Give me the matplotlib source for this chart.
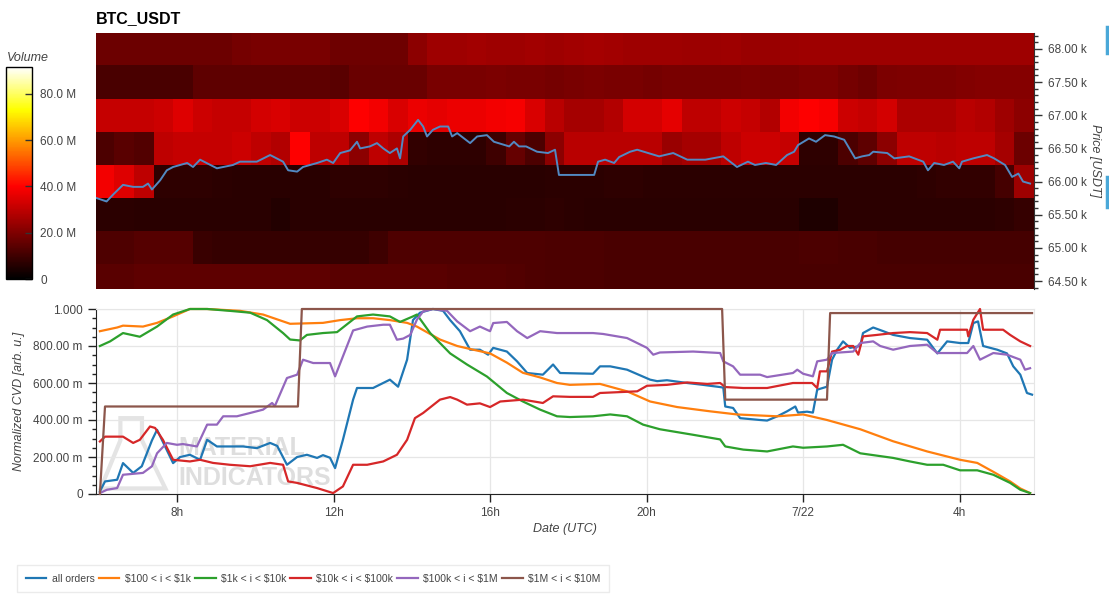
import numpy as np
import matplotlib
matplotlib.use("Agg")
import matplotlib.pyplot as plt
from matplotlib.colors import LinearSegmentedColormap
from matplotlib.ticker import FixedLocator, MultipleLocator, FuncFormatter
from matplotlib.patches import Polygon
from matplotlib.lines import Line2D

plt.rcParams["font.family"] = ["Liberation Sans", "DejaVu Sans"]

W, H = 1109, 595

# time axis: hours since 2024-07-21 00:00 UTC
x_ticks = [8, 12, 16, 20, 24, 28]
x_tick_labels = ["8h", "12h", "16h", "20h", "7/22", "4h"]

# heatmap: 30-min columns starting at 05:54, price bins of 500 USDT (values in M)
heat_start = 5.9
heat_step = 0.5
price_levels = [64.5, 65.0, 65.5, 66.0, 66.5, 67.0, 67.5, 68.0]

vol_6450 = [14, 14, 15, 15, 15, 15, 15, 15,
            15, 15, 15, 15, 14, 14, 14, 14,
            14, 14, 13.5, 13.5, 13.5, 13, 12.5, 12,
            12, 12, 11.5, 11.5, 11.5, 11.5, 11.5, 11.5,
            11.5, 11.5, 11.5, 11.5, 11.5, 11.5, 11.5, 11.5,
            11.5, 11.5, 11.5, 11.5, 11.5, 11.5, 11.5, 11.5]
vol_6500 = [12.5, 12.5, 13.5, 13.5, 13.5, 9, 8.5, 8.5,
            8.5, 8.5, 8.5, 8.5, 8.5, 8.5, 10, 12.5,
            12.5, 12.5, 12.5, 12.5, 12.5, 12.5, 12.5, 12,
            12, 12, 11.5, 11.5, 11.5, 11.5, 11.5, 11.5,
            11.5, 11.5, 11.5, 11.5, 12, 12, 11.5, 11.5,
            11, 11, 11, 11, 11, 11, 11, 11]
vol_6550 = [7, 7, 6.5, 6.5, 6.5, 6.5, 6.5, 6.5,
            6.5, 5.5, 6.5, 6.5, 6.5, 6.5, 6.5, 6.5,
            6.5, 6.5, 6.5, 6.5, 6.5, 7, 7, 7.5,
            7, 6.5, 6.5, 6.5, 6.5, 6.5, 6.5, 6.5,
            6.5, 6.5, 6.5, 6.5, 5, 5, 7, 7,
            7, 7, 7, 7, 7, 7, 7.5, 8.5]
vol_6600 = [38, 35, 30, 7.5, 7.5, 7.5, 7, 6.5,
            6.5, 6.5, 6.5, 6.5, 7.5, 7.5, 7.5, 7,
            6.5, 6.5, 6.5, 6.5, 6.5, 6.5, 6.5, 7,
            7, 7, 7.5, 7.5, 7, 7, 7, 7,
            7, 7, 7, 7, 7, 7, 7, 7,
            7, 7, 7.5, 8, 8, 8, 11, 25]
vol_6650 = [12, 14, 13, 30, 31, 31, 31, 32,
            30, 28, 40, 30, 30, 22, 30, 27,
            8, 7.5, 7.5, 7.5, 10, 16, 12, 22,
            29, 29, 29, 29, 29, 24, 26, 26,
            30, 32, 32, 31, 7.5, 7.5, 12, 15,
            22, 30, 30, 29, 30, 30, 26, 17]
vol_6700 = [31, 31, 31, 32, 35, 32, 31, 31,
            33, 34, 32, 32, 34, 40, 38, 34,
            37, 36, 37, 37, 38, 39, 34, 29,
            26, 26, 28, 33, 33, 36, 30, 30,
            32, 31, 28, 38, 40, 39, 32, 31,
            33, 27, 27, 27, 29, 28, 25, 22]
vol_6750 = [11.5, 11.5, 11.5, 11.5, 11.5, 15, 15, 15,
            15, 15, 15, 15, 14, 16.5, 16.5, 16.5,
            16.5, 19, 19, 19, 19.5, 19, 19, 18.5,
            19, 19.5, 19, 19, 18.5, 19, 19, 19,
            19, 19.5, 19, 19, 20, 20, 18.5, 17.5,
            19.5, 20, 20, 20, 20.5, 21, 21, 21]
vol_6800 = [17, 17, 17, 17, 17, 17, 17, 18.5,
            19, 19, 19, 19, 17.5, 17.5, 17.5, 17.5,
            22, 25, 25, 25.5, 25, 25, 25.5, 25,
            25.5, 26, 25.5, 25, 25, 25, 24.5, 24.5,
            25, 24, 24, 24.5, 25, 25, 25, 25,
            25, 25, 25, 25, 25, 25, 25, 25]

# BTC price (k USDT)
price = [(5.95, 65.75), (6.20, 65.70), (6.36, 65.80), (6.62, 65.95), (6.88, 65.92),
         (7.13, 65.92), (7.26, 65.97), (7.36, 65.88), (7.57, 66.02), (7.74, 66.17),
         (7.90, 66.22), (8.08, 66.25), (8.26, 66.28), (8.41, 66.22), (8.59, 66.33),
         (9.02, 66.20), (9.43, 66.25), (9.61, 66.30), (10.04, 66.30), (10.38, 66.40),
         (10.71, 66.30), (10.84, 66.17), (11.07, 66.15), (11.22, 66.22), (11.58, 66.28),
         (11.83, 66.33), (11.99, 66.28), (12.17, 66.43), (12.42, 66.47), (12.60, 66.60),
         (12.68, 66.50), (12.93, 66.53), (13.11, 66.58), (13.27, 66.50), (13.44, 66.43),
         (13.62, 66.50), (13.70, 66.35), (13.78, 66.68), (13.96, 66.78), (14.16, 66.93),
         (14.29, 66.83), (14.39, 66.68), (14.54, 66.78), (14.72, 66.83), (14.93, 66.83),
         (15.03, 66.68), (15.16, 66.73), (15.49, 66.58), (15.67, 66.68), (15.92, 66.70),
         (16.10, 66.60), (16.49, 66.53), (16.61, 66.60), (16.74, 66.53), (16.92, 66.53),
         (17.20, 66.45), (17.48, 66.43), (17.66, 66.48), (17.76, 66.10), (18.66, 66.10),
         (18.76, 66.30), (18.94, 66.33), (19.17, 66.28), (19.30, 66.37), (19.58, 66.45),
         (19.76, 66.48), (20.32, 66.38), (20.68, 66.43), (21.04, 66.33), (21.50, 66.33),
         (21.96, 66.38), (22.31, 66.22), (22.59, 66.30), (22.77, 66.25), (23.05, 66.28),
         (23.31, 66.25), (23.59, 66.40), (23.77, 66.45), (23.87, 66.55), (24.15, 66.65),
         (24.33, 66.60), (24.56, 66.70), (24.79, 66.68), (25.05, 66.63), (25.33, 66.35),
         (25.51, 66.38), (25.69, 66.40), (25.79, 66.45), (26.15, 66.43), (26.33, 66.35),
         (26.71, 66.38), (27.07, 66.30), (27.19, 66.17), (27.35, 66.28), (27.60, 66.25),
         (27.83, 66.30), (27.99, 66.20), (28.06, 66.30), (28.35, 66.35), (28.70, 66.40),
         (28.88, 66.35), (29.16, 66.25), (29.34, 66.07), (29.50, 66.12), (29.62, 66.00),
         (29.80, 65.97)]

# normalized CVD per order size bucket
cvd_all = [(6.03, 0.014), (6.16, 0.068), (6.47, 0.077), (6.62, 0.167), (6.88, 0.114),
           (7.10, 0.15), (7.36, 0.29), (7.49, 0.347), (7.90, 0.167), (8.08, 0.20),
           (8.33, 0.212), (8.59, 0.185), (8.77, 0.293), (9.02, 0.257), (9.35, 0.257),
           (9.69, 0.257), (10.04, 0.248), (10.38, 0.276), (10.56, 0.26), (10.81, 0.158),
           (11.07, 0.20), (11.32, 0.212), (11.58, 0.195), (11.73, 0.21), (11.91, 0.196),
           (12.04, 0.14), (12.24, 0.293), (12.50, 0.51), (12.60, 0.573), (13.01, 0.573),
           (13.44, 0.618), (13.65, 0.58), (13.88, 0.726), (14.03, 0.94), (14.21, 0.98),
           (14.54, 1.0), (14.80, 0.99), (14.98, 0.94), (15.23, 0.88), (15.49, 0.78),
           (15.74, 0.78), (15.95, 0.753), (16.08, 0.79), (16.43, 0.77), (16.69, 0.717),
           (16.95, 0.654), (17.35, 0.645), (17.61, 0.70), (17.79, 0.654), (18.63, 0.65),
           (18.81, 0.69), (19.07, 0.69), (19.50, 0.672), (20.09, 0.618), (20.27, 0.61),
           (20.52, 0.615), (21.04, 0.60), (21.44, 0.59), (21.88, 0.578), (21.96, 0.575),
           (22.01, 0.473), (22.21, 0.465), (22.39, 0.41), (22.90, 0.40), (23.08, 0.397),
           (23.34, 0.42), (23.59, 0.447), (23.80, 0.473), (23.87, 0.44), (24.10, 0.445),
           (24.25, 0.44), (24.36, 0.564), (24.61, 0.58), (24.74, 0.726), (24.87, 0.78),
           (25.02, 0.825), (25.20, 0.79), (25.46, 0.80), (25.53, 0.87), (25.79, 0.90),
           (26.05, 0.88), (26.30, 0.86), (26.73, 0.843), (27.17, 0.834), (27.43, 0.76),
           (27.68, 0.825), (28.01, 0.816), (28.22, 0.816), (28.35, 0.924), (28.47, 0.933),
           (28.60, 0.80), (28.96, 0.78), (29.21, 0.76), (29.37, 0.69), (29.55, 0.645),
           (29.72, 0.546), (29.85, 0.537)]
cvd_100_1k = [(6.03, 0.88), (6.47, 0.90), (6.62, 0.91), (7.13, 0.905), (7.49, 0.925),
              (7.90, 0.96), (8.33, 1.0), (8.77, 1.0), (9.61, 0.99), (10.20, 0.97),
              (10.89, 0.92), (11.73, 0.925), (12.17, 0.94), (12.60, 0.95), (13.01, 0.95),
              (13.44, 0.94), (13.88, 0.925), (14.13, 0.905), (14.72, 0.835), (15.16, 0.80),
              (15.57, 0.78), (16.00, 0.76), (16.43, 0.71), (16.84, 0.655), (17.28, 0.63),
              (17.71, 0.60), (18.04, 0.59), (18.81, 0.595), (19.50, 0.555), (20.09, 0.50),
              (20.78, 0.47), (21.62, 0.447), (22.31, 0.43), (23.34, 0.42), (24.00, 0.43),
              (24.61, 0.40), (25.46, 0.35), (26.30, 0.285), (27.17, 0.23), (28.01, 0.185),
              (28.45, 0.168), (28.86, 0.12), (29.29, 0.068), (29.55, 0.03), (29.80, 0.005)]
cvd_1k_10k = [(6.03, 0.80), (6.29, 0.825), (6.62, 0.87), (7.05, 0.85), (7.49, 0.905),
              (7.90, 0.97), (8.33, 1.0), (8.77, 1.0), (9.35, 0.99), (9.87, 0.98),
              (10.30, 0.94), (10.71, 0.87), (10.89, 0.835), (11.14, 0.83), (11.32, 0.86),
              (11.73, 0.87), (12.09, 0.875), (12.60, 0.96), (13.01, 0.97), (13.44, 0.96),
              (13.70, 0.93), (14.03, 0.96), (14.13, 0.97), (14.47, 0.87), (14.98, 0.76),
              (15.41, 0.70), (15.92, 0.635), (16.43, 0.546), (16.84, 0.50), (17.28, 0.456),
              (17.71, 0.42), (18.04, 0.416), (18.63, 0.42), (19.07, 0.43), (19.50, 0.42),
              (19.91, 0.375), (20.34, 0.35), (21.19, 0.32), (21.88, 0.295), (22.01, 0.257),
              (22.47, 0.24), (23.08, 0.23), (23.74, 0.257), (24.00, 0.25), (24.61, 0.257),
              (25.02, 0.266), (25.46, 0.22), (26.30, 0.195), (26.73, 0.176), (27.17, 0.158),
              (27.58, 0.158), (28.01, 0.128), (28.45, 0.128), (28.86, 0.104), (29.29, 0.06),
              (29.55, 0.023), (29.80, 0.005)]
cvd_10k_100k = [(6.03, 0.284), (6.16, 0.31), (6.62, 0.31), (6.88, 0.276), (7.05, 0.293),
                (7.31, 0.365), (7.44, 0.357), (7.64, 0.293), (7.90, 0.185), (8.33, 0.176),
                (8.59, 0.185), (8.92, 0.168), (9.35, 0.158), (9.87, 0.15), (10.38, 0.168),
                (10.71, 0.158), (10.84, 0.068), (11.07, 0.06), (11.58, 0.032), (11.99, 0.005),
                (12.24, 0.041), (12.50, 0.158), (12.86, 0.158), (13.27, 0.176), (13.62, 0.212),
                (13.88, 0.293), (14.08, 0.41), (14.29, 0.438), (14.72, 0.51), (14.98, 0.524),
                (15.16, 0.51), (15.41, 0.483), (15.74, 0.49), (16.00, 0.47), (16.26, 0.50),
                (16.84, 0.51), (17.35, 0.492), (17.61, 0.528), (18.04, 0.525), (18.63, 0.525),
                (18.81, 0.546), (19.76, 0.555), (20.01, 0.585), (20.52, 0.59), (21.04, 0.603),
                (21.55, 0.595), (21.88, 0.60), (22.01, 0.578), (22.47, 0.573), (23.08, 0.573),
                (23.74, 0.60), (24.23, 0.60), (24.36, 0.573), (24.43, 0.663), (24.61, 0.663),
                (24.74, 0.77), (24.95, 0.78), (25.12, 0.80), (25.28, 0.80), (25.41, 0.753),
                (25.53, 0.852), (25.89, 0.86), (26.30, 0.87), (26.73, 0.875), (27.17, 0.87),
                (27.43, 0.834), (27.50, 0.888), (28.19, 0.888), (28.22, 0.852), (28.35, 0.942),
                (28.52, 1.0), (28.60, 0.888), (29.11, 0.888), (29.29, 0.86), (29.55, 0.825),
                (29.80, 0.80)]
cvd_100k_1m = [(6.03, 0.005), (6.21, 0.023), (6.47, 0.032), (6.62, 0.104), (7.13, 0.114),
               (7.36, 0.15), (7.49, 0.22), (7.74, 0.276), (8.00, 0.266), (8.15, 0.27),
               (8.51, 0.257), (8.77, 0.375), (9.02, 0.375), (9.18, 0.42), (9.53, 0.42),
               (9.87, 0.438), (10.20, 0.456), (10.43, 0.492), (10.50, 0.475), (10.81, 0.627),
               (11.07, 0.645), (11.22, 0.726), (11.48, 0.708), (11.91, 0.708), (12.04, 0.636),
               (12.24, 0.744), (12.50, 0.884), (12.86, 0.905), (13.27, 0.915), (13.44, 0.915),
               (13.62, 0.834), (13.78, 0.84), (13.96, 0.86), (14.13, 0.942), (14.29, 0.987),
               (14.54, 1.0), (14.90, 0.99), (15.16, 0.933), (15.49, 0.88), (15.74, 0.905),
               (16.00, 0.88), (16.08, 0.924), (16.43, 0.93), (16.69, 0.88), (16.95, 0.843),
               (17.28, 0.88), (17.71, 0.87), (18.63, 0.87), (18.89, 0.865), (19.50, 0.843),
               (20.01, 0.79), (20.17, 0.753), (20.34, 0.765), (21.19, 0.77), (21.88, 0.762),
               (21.96, 0.717), (22.21, 0.69), (22.39, 0.645), (22.90, 0.645), (23.08, 0.632),
               (23.74, 0.654), (23.85, 0.672), (24.00, 0.65), (24.25, 0.636), (24.36, 0.717),
               (24.61, 0.726), (24.74, 0.762), (25.28, 0.77), (25.46, 0.816), (25.79, 0.825),
               (25.97, 0.80), (26.30, 0.78), (26.73, 0.80), (27.17, 0.807), (27.43, 0.762),
               (28.19, 0.762), (28.35, 0.80), (28.52, 0.726), (28.86, 0.762), (29.21, 0.753),
               (29.55, 0.726), (29.67, 0.672), (29.80, 0.68)]
cvd_1m_10m = [(6.03, 0.0), (6.16, 0.473), (11.09, 0.473), (11.19, 1.0), (21.93, 1.0),
              (22.01, 0.51), (24.61, 0.51), (24.69, 0.978), (29.85, 0.978)]

series = [
    (cvd_all, "all orders", "#1f77b4"),
    (cvd_100_1k, r"\$100 < i < \$1k", "#ff7f0e"),
    (cvd_1k_10k, r"\$1k < i < \$10k", "#2ca02c"),
    (cvd_10k_100k, r"\$10k < i < \$100k", "#d62728"),
    (cvd_100k_1m, r"\$100k < i < \$1M", "#9467bd"),
    (cvd_1m_10m, r"\$1M < i < \$10M", "#8c564b"),
]

text_col = "#444444"
xmin, xmax = 5.93, 29.9

fig = plt.figure(figsize=(W / 100, H / 100), dpi=100)

# ---- heatmap panel
ax_h = fig.add_axes([96 / W, 1 - 289 / H, 938 / W, 256 / H])
fire = LinearSegmentedColormap.from_list(
    "fire", [(0.0, "#000000"), (0.437, "#ff0000"), (0.655, "#ff9a00"),
             (0.80, "#ffff00"), (1.0, "#ffffff")])
x_edges = heat_start + heat_step * np.arange(len(vol_6800) + 1)
y_edges = np.append(np.array(price_levels) - 0.25, price_levels[-1] + 0.25)
vol = np.array([vol_6450, vol_6500, vol_6550, vol_6600,
                vol_6650, vol_6700, vol_6750, vol_6800]) * 1e6
mesh = ax_h.pcolormesh(x_edges, y_edges, vol, cmap=fire, vmin=0, vmax=91.6e6,
                       shading="flat")
pt, pv = zip(*price)
ax_h.plot(pt, pv, color="#5289c2", lw=1.4)
ax_h.set_xlim(xmin, xmax)
ax_h.set_ylim(64.38, 68.24)
ax_h.set_xticks([])
ax_h.yaxis.tick_right()
ax_h.yaxis.set_label_position("right")
ax_h.yaxis.set_major_locator(MultipleLocator(0.5))
ax_h.yaxis.set_minor_locator(MultipleLocator(0.1))
ax_h.yaxis.set_major_formatter(FuncFormatter(lambda v, p: f"{v:.2f} k"))
ax_h.tick_params(axis="y", which="major", length=6, width=1, colors="#333333",
                 labelcolor=text_col, labelsize=8.5, pad=4)
ax_h.tick_params(axis="y", which="minor", length=3, width=1, colors="#333333")
for s in ["left", "top", "bottom"]:
    ax_h.spines[s].set_visible(False)
ax_h.spines["right"].set_color("#333333")
ax_h.set_ylabel("Price [USDT]", rotation=270, style="italic", color=text_col,
                fontsize=9, labelpad=10)
fig.text(96 / W, 1 - 19 / H, "BTC_USDT", fontsize=11.5, fontweight="bold",
         va="center", ha="left")

# ---- colorbar
cax = fig.add_axes([6 / W, 1 - 279 / H, 26 / W, 212 / H])
cb = fig.colorbar(mesh, cax=cax)
cb.set_ticks([0, 20e6, 40e6, 60e6, 80e6])
cb.set_ticklabels(["0", "20.0 M", "40.0 M", "60.0 M", "80.0 M"])
cb.outline.set_edgecolor("#000000")
cb.outline.set_linewidth(1)
cax.tick_params(direction="in", length=5, width=1, colors="#333333",
                labelcolor=text_col, labelsize=8.5, pad=6)
fig.text(7 / W, 1 - 58 / H, "Volume", style="italic", color=text_col,
         fontsize=9, va="center", ha="left")

# ---- CVD panel
ax = fig.add_axes([96 / W, 1 - 494 / H, 938 / W, 185 / H])
# watermark
wm_font = ["Liberation Sans Narrow", "Liberation Sans", "DejaVu Sans"]
ax.text(0.088, 0.25, "MATERIAL", transform=ax.transAxes, fontsize=18,
        fontweight="bold", color="#dedede", va="center", ha="left", zorder=0,
        family=wm_font)
ax.text(0.088, 0.085, "INDICATORS", transform=ax.transAxes, fontsize=18,
        fontweight="bold", color="#dedede", va="center", ha="left", zorder=0,
        family=wm_font)
flask = Polygon([(0.026, 0.41), (0.026, 0.29), (0.005, 0.03), (0.074, 0.03),
                 (0.049, 0.29), (0.049, 0.41)], closed=True, fill=False,
                edgecolor="#e4e4e4", lw=3, transform=ax.transAxes, zorder=0)
ax.add_patch(flask)

handles = []
for data, label, color in series:
    t, v = zip(*data)
    ln, = ax.plot(t, v, color=color, lw=1.6, label=label, clip_on=False,
                  solid_joinstyle="round", zorder=3)
    handles.append(ln)

ax.set_xlim(xmin, xmax)
ax.set_ylim(0, 1.0)
ax.xaxis.set_major_locator(FixedLocator(x_ticks))
ax.set_xticklabels(x_tick_labels)
ax.yaxis.set_major_locator(FixedLocator([0, 0.2, 0.4, 0.6, 0.8, 1.0]))
ax.set_yticklabels(["0", "200.00 m", "400.00 m", "600.00 m", "800.00 m", "1.000"])
ax.yaxis.set_minor_locator(MultipleLocator(0.05))
ax.tick_params(axis="both", which="major", length=6, width=1, colors="#222222",
               labelcolor=text_col, labelsize=8.5)
ax.tick_params(axis="y", which="minor", length=3, width=1, colors="#222222")
ax.grid(True, which="major", color="#e6e6e6", lw=0.9)
ax.set_axisbelow(True)
for s in ["top", "right"]:
    ax.spines[s].set_color("#e6e6e6")
for s in ["left", "bottom"]:
    ax.spines[s].set_color("#222222")
ax.set_xlabel("Date (UTC)", style="italic", color=text_col, fontsize=9, labelpad=3)
ax.set_ylabel("Normalized CVD [arb. u.]", style="italic", color=text_col,
              fontsize=9, labelpad=6)

# legend box below the chart
leg = fig.legend(handles=handles, loc="upper left",
                 bbox_to_anchor=(12 / W, 1 - 560 / H), ncol=6, frameon=True,
                 fancybox=False, edgecolor="#e6e6e6", fontsize=7.5,
                 handlelength=2.0, handletextpad=0.5, columnspacing=0.4,
                 borderpad=0.8)
for txt in leg.get_texts():
    txt.set_color(text_col)

# toolbar accents at the right edge
for y0, y1 in [(27, 53), (177, 207)]:
    fig.add_artist(Line2D([1107 / W, 1107 / W], [1 - y0 / H, 1 - y1 / H],
                          transform=fig.transFigure, color="#4aa8d8", lw=2.5))

fig.savefig("out.png", dpi=100)
